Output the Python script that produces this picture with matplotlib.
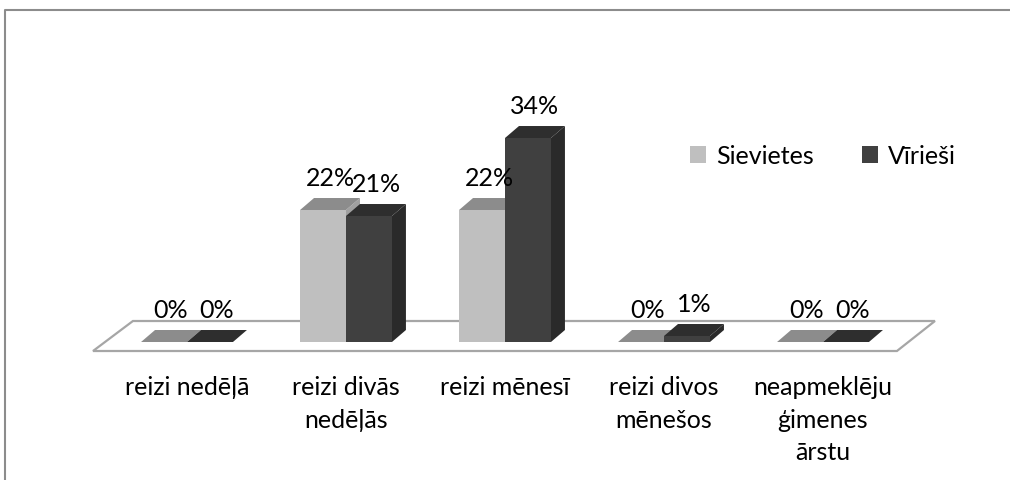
import numpy as np
import matplotlib.pyplot as plt
from matplotlib.patches import Polygon, Rectangle
from matplotlib.lines import Line2D

# data
categories = ['reizi nedēļā', 'reizi divās\nnedēļās', 'reizi mēnesī',
              'reizi divos\nmēnešos', 'neapmeklēju\nģimenes\nārstu']
sievietes = [0, 22, 22, 0, 0]
virieshi = [0, 21, 34, 1, 0]
series_names = ['Sievietes', 'Vīrieši']

plt.rcParams['font.family'] = ['Lato', 'DejaVu Sans']
FS = 18

# fake-3D geometry (data units)
W = 0.289      # bar width
DX = 0.088     # depth shift in x
DY = 2.0       # depth shift in y

colours = {
    'Sievietes': ('#bfbfbf', '#8c8c8c', '#a0a0a0'),
    'Vīrieši': ('#404040', '#2e2e2e', '#2a2a2a'),
}


def bar3d(ax, xc, v, front, top, side):
    x0, x1 = xc - W / 2, xc + W / 2
    ax.add_patch(Polygon([(x1, 0), (x1 + DX, DY), (x1 + DX, v + DY), (x1, v)],
                         fc=side, ec='none', zorder=2))
    ax.add_patch(Polygon([(x0, v), (x1, v), (x1 + DX, v + DY), (x0 + DX, v + DY)],
                         fc=top, ec='none', zorder=2))
    ax.add_patch(Rectangle((x0, 0), W, v, fc=front, ec='none', zorder=2))
    ax.text(xc + DX / 2, v + DY + 3.5, '%d%%' % v, ha='center', va='center',
            fontsize=FS, zorder=5)


fig = plt.figure(figsize=(10.1, 4.81), dpi=100)
ax = fig.add_axes([0, 0, 1, 1])
ax.set_xlim(-1.176, 5.176)
ax.set_ylim(-23.0, 57.17)
ax.axis('off')

# floor
n = len(categories)
ax.add_patch(Polygon([(-0.591, -1.5), (n - 0.535, -1.5),
                      (n - 0.296, 3.5), (-0.340, 3.5)],
                     fc='white', ec='#a6a6a6', lw=1.6, zorder=1))

for i in range(n):
    f, t, s = colours['Sievietes']
    bar3d(ax, i - W / 2, sievietes[i], f, t, s)
    f, t, s = colours['Vīrieši']
    bar3d(ax, i + W / 2, virieshi[i], f, t, s)
    ax.text(i, -5.5, categories[i], ha='center', va='top', fontsize=FS,
            linespacing=1.5)

handles = [Rectangle((0, 0), 1, 1, fc=colours[k][0]) for k in series_names]
fig.legend(handles, series_names, loc='center left',
           bbox_to_anchor=(690 / 1010, 1 - 157 / 481), ncol=2, frameon=False,
           fontsize=FS, handlelength=0.65, handleheight=0.65, handletextpad=0.4,
           columnspacing=1.9, borderpad=0, borderaxespad=0)

# chart area border
fig.add_artist(Line2D([5 / 1010, 5 / 1010, 1], [0, 1 - 11 / 481, 1 - 11 / 481],
                      transform=fig.transFigure, color='#8c8c8c', lw=1.5))

fig.savefig('out.png', dpi=100)
